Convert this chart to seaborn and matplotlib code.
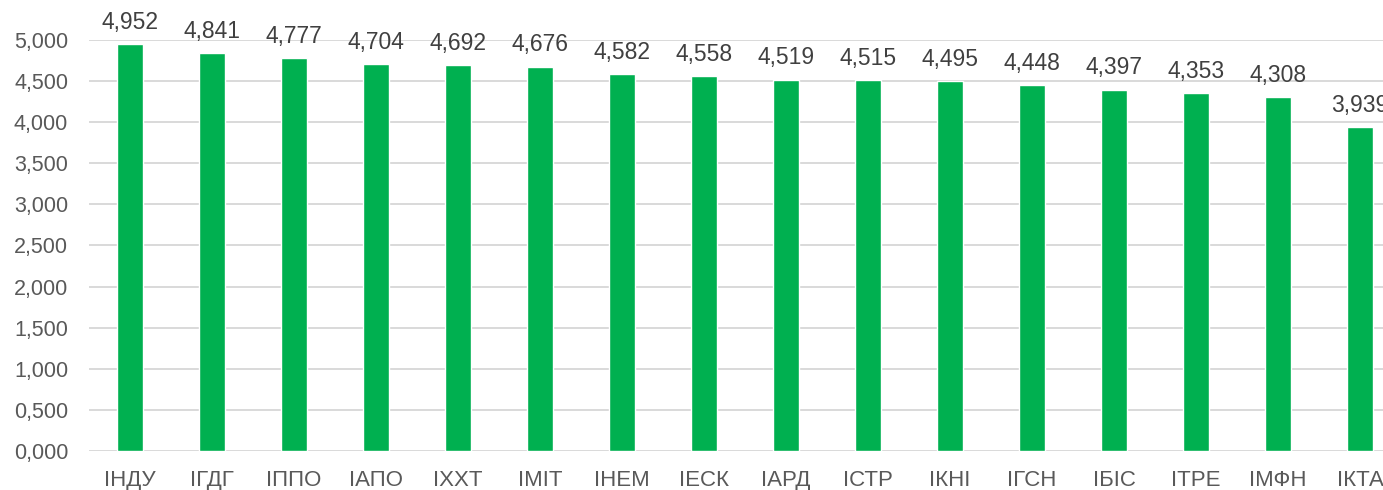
import matplotlib
matplotlib.use("Agg")
import matplotlib.pyplot as plt
import seaborn as sns
from matplotlib.ticker import FuncFormatter, MultipleLocator

# chart data
institutes = ["ІНДУ", "ІГДГ", "ІППО", "ІАПО", "ІХХТ", "ІМІТ", "ІНЕМ", "ІЕСК",
              "ІАРД", "ІСТР", "ІКНІ", "ІГСН", "ІБІС", "ІТРЕ", "ІМФН", "ІКТА"]
scores = [4.952, 4.841, 4.777, 4.704, 4.692, 4.676, 4.582, 4.558,
          4.519, 4.515, 4.495, 4.448, 4.397, 4.353, 4.308, 3.939]

sns.set_style("white")
plt.rcParams['font.family'] = ['Liberation Sans', 'DejaVu Sans']

fig = plt.figure(figsize=(13.83, 4.90), dpi=100)
# axes runs a bit past the right edge like the original screenshot
ax = fig.add_axes([0.0644, 0.0796, 0.9487, 0.8388])

sns.barplot(x=institutes, y=scores, color="#00B050", saturation=1,
            width=0.32, ax=ax, zorder=3)

for i, v in enumerate(scores):
    ax.annotate(f"{v:.3f}".replace(".", ","), (i, v), xytext=(0, 11),
                textcoords="offset points", ha="center", va="baseline",
                fontsize=16.5, color="#404040", annotation_clip=False)

ax.set_ylim(0, 5)
ax.set_xlim(-0.5, len(institutes) - 0.5)
ax.yaxis.set_major_locator(MultipleLocator(0.5))
ax.yaxis.set_major_formatter(FuncFormatter(lambda y, _: f"{y:.3f}".replace(".", ",")))
ax.grid(axis="y", color="#D9D9D9", linewidth=1.4, zorder=0)
ax.set_axisbelow(True)
ax.tick_params(axis="y", length=0, labelsize=15.5, labelcolor="#595959", pad=15)
ax.tick_params(axis="x", length=0, labelsize=16, labelcolor="#595959", pad=14)
ax.set_xlabel("")
ax.set_ylabel("")
for s in ax.spines.values():
    s.set_visible(False)

fig.savefig("out.png", dpi=100)
